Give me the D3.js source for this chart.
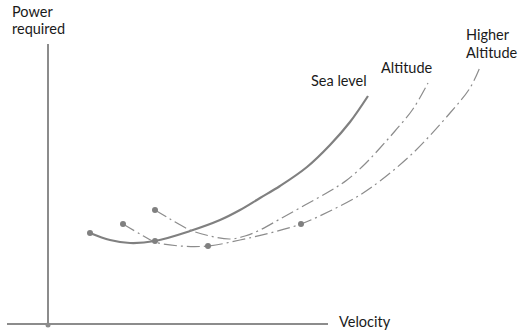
<!DOCTYPE html>
<html>
<head>
<meta charset="utf-8">
<script src="https://cdn.jsdelivr.net/npm/d3@7"></script>
<style>
  html, body { margin: 0; padding: 0; background: #fff; }
  svg { display: block; }
  text { font-family: Lato, "Open Sans", sans-serif; font-size: 14.5px; fill: #1a1a1a; }
</style>
</head>
<body>
<svg id="chart" width="518" height="333"></svg>
<script>
// Power required vs. velocity at three altitudes (schematic units)
const seaLevel = [
  [4.2, 9.0], [6.2, 8.3], [8.2, 8.0], [10.7, 8.2], [14.2, 9.2], [17.2, 10.3],
  [19.2, 11.3], [21.2, 12.5], [23.2, 13.7], [25.9, 15.6], [28.2, 17.8],
  [30.2, 20.1], [32.0, 22.7]
];
const altitude = [
  [10.7, 11.3], [12.2, 10.4], [14.2, 9.3], [16.2, 8.7], [18.2, 8.4], [19.7, 8.7],
  [21.2, 9.3], [23.2, 10.4], [25.7, 11.8], [28.2, 13.2], [29.9, 14.3],
  [31.7, 15.9], [33.2, 17.5], [34.7, 19.2], [36.5, 21.4], [38.0, 24.0]
];
const higherAltitude = [
  [7.5, 9.9], [9.2, 8.9], [10.7, 8.1], [13.2, 7.7], [16.0, 7.7], [19.2, 8.3],
  [22.2, 9.0], [25.3, 9.9], [28.2, 11.2], [31.2, 12.8], [33.2, 14.2],
  [36.5, 17.0], [40.2, 21.0], [42.2, 23.5], [43.2, 25.6]
];
// marked points along the curves
const markers = [[4.2, 9.0], [10.7, 8.2], [10.7, 11.3], [7.5, 9.9], [16.0, 7.7], [25.3, 9.9]];
const seriesLabels = [
  { text: ["Sea level"], at: [26.3, 23.7] },
  { text: ["Altitude"], at: [33.3, 25.0] },
  { text: ["Higher", "Altitude"], at: [41.8, 28.3] }
];
const axisLabels = { y: ["Power", "required"], x: "Velocity" };

const svg = d3.select("#chart");
const x = d3.scaleLinear().domain([0, 47]).range([48, 518]);
const y = d3.scaleLinear().domain([0, 30]).range([323, 23]);

// axes
svg.append("line")
  .attr("x1", x(0)).attr("x2", x(0))
  .attr("y1", y(27.9)).attr("y2", y(-0.3))
  .attr("stroke", "#8c8c8c").attr("stroke-width", 2);
svg.append("line")
  .attr("x1", x(-4.1)).attr("x2", x(28))
  .attr("y1", y(-0.1)).attr("y2", y(-0.1))
  .attr("stroke", "#8c8c8c").attr("stroke-width", 2);
svg.append("circle")
  .attr("cx", x(0)).attr("cy", y(-0.2)).attr("r", 2.5).attr("fill", "#8c8c8c");

const line = d3.line()
  .x(d => x(d[0])).y(d => y(d[1]))
  .curve(d3.curveCatmullRom.alpha(0.5));

svg.append("path").datum(seaLevel)
  .attr("d", line).attr("fill", "none")
  .attr("stroke", "#808080").attr("stroke-width", 2.2);

[altitude, higherAltitude].forEach(s => {
  svg.append("path").datum(s)
    .attr("d", line).attr("fill", "none")
    .attr("stroke", "#8c8c8c").attr("stroke-width", 1.2)
    .attr("stroke-dasharray", "13,4,2,4");
});

svg.selectAll("circle.mk").data(markers).enter().append("circle")
  .attr("class", "mk")
  .attr("cx", d => x(d[0])).attr("cy", d => y(d[1]))
  .attr("r", 3).attr("fill", "#808080");

// labels
svg.selectAll("text.series").data(seriesLabels).enter().append("text")
  .attr("class", "series")
  .attr("x", d => x(d.at[0])).attr("y", d => y(d.at[1]))
  .each(function (d) {
    const t = d3.select(this);
    d.text.forEach((s, i) => {
      t.append("tspan").attr("x", x(d.at[0])).attr("dy", i === 0 ? 0 : 18).text(s);
    });
  });

const yl = svg.append("text").attr("x", 12).attr("y", 17);
axisLabels.y.forEach((s, i) => {
  yl.append("tspan").attr("x", 12).attr("dy", i === 0 ? 0 : 17).text(s);
});
svg.append("text").attr("x", x(29.1)).attr("y", 327).text(axisLabels.x);
</script>
</body>
</html>
